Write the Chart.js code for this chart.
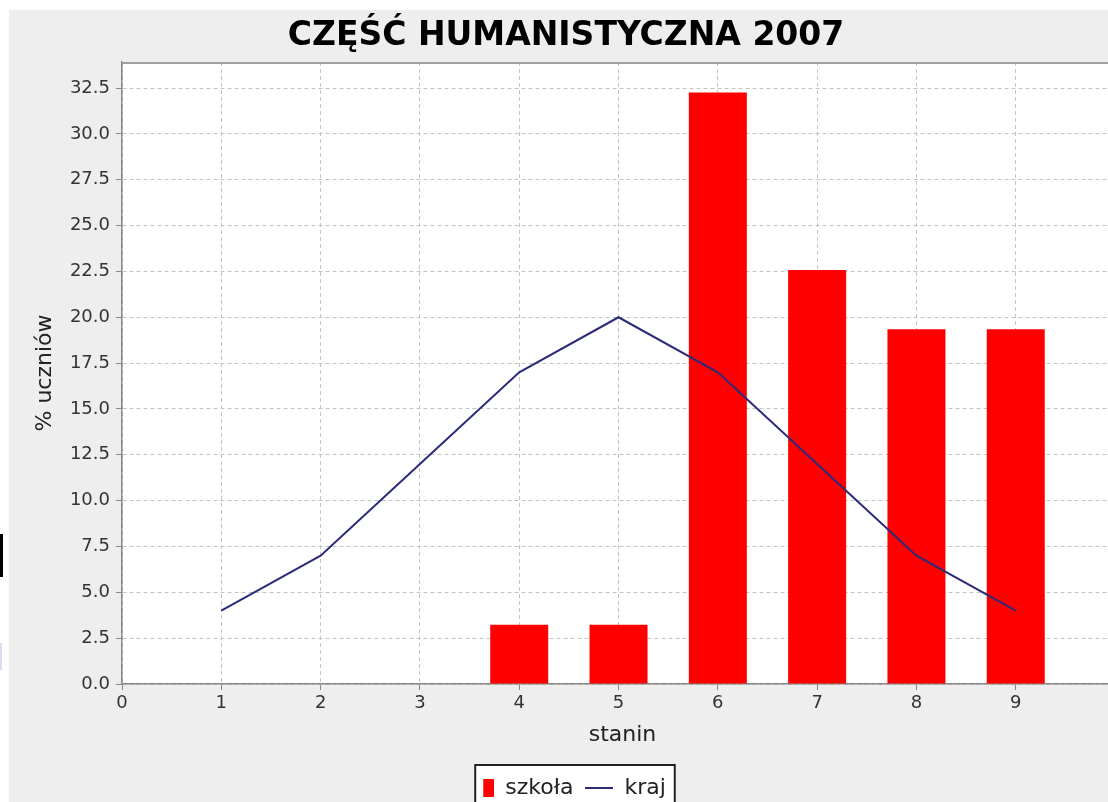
<!DOCTYPE html>
<html>
<head>
<meta charset="utf-8">
<script src="https://cdn.jsdelivr.net/npm/chart.js@4.4.0/dist/chart.umd.min.js"></script>
<style>
  html, body { margin: 0; padding: 0; background: #fff; overflow: hidden; width: 1108px; height: 802px; }
  #wrap { position: absolute; left: 9px; top: 10px; width: 1114px; height: 792px; }
  .edge { position: absolute; left: 0; width: 3px; }
</style>
</head>
<body>
<div id="wrap"><canvas id="staninChart" width="1114" height="792"></canvas></div>
<div class="edge" style="top:534px;height:43px;background:#000"></div>
<div class="edge" style="top:643px;height:27px;width:2px;background:#dcdcf0"></div>
<script>
// stanin distribution: school result vs national norm
const stanin = [1, 2, 3, 4, 5, 6, 7, 8, 9];
const szkola = [0, 0, 0, 3.23, 3.23, 32.26, 22.58, 19.35, 19.35];
const kraj = [4, 7, 12, 17, 20, 17, 12, 7, 4];
const xTicks = [0, 1, 2, 3, 4, 5, 6, 7, 8, 9];
const yTicks = [0, 2.5, 5, 7.5, 10, 12.5, 15, 17.5, 20, 22.5, 25, 27.5, 30, 32.5];

Chart.defaults.font.family = "'DejaVu Sans', sans-serif";

// small legend symbols (red box, navy line)
function makeSymbol(draw) {
    const c = document.createElement('canvas');
    c.width = 28;
    c.height = 18;
    draw(c.getContext('2d'));
    return c;
}
const boxSymbol = makeSymbol(g => { g.fillStyle = '#ff0000'; g.fillRect(17, 0, 11, 18); });
const lineSymbol = makeSymbol(g => { g.fillStyle = '#2b2b7a'; g.fillRect(0, 8, 28, 2); });

const backdrop = {
    id: 'backdrop',
    beforeDraw(chart) {
        const { ctx, chartArea } = chart;
        ctx.save();
        ctx.fillStyle = '#eeeeee';
        ctx.fillRect(0, 0, chart.width, chart.height);
        ctx.fillStyle = '#ffffff';
        ctx.fillRect(chartArea.left, chartArea.top, chartArea.right - chartArea.left, chartArea.bottom - chartArea.top);
        // legend frame
        const hb = chart.legend.legendHitBoxes;
        if (hb && hb.length) {
            const first = hb.reduce((a, b) => (b.left < a.left ? b : a));
            const last = hb.reduce((a, b) => (b.left > a.left ? b : a));
            const left = first.left + 17 - 8;
            const right = last.left + last.width + 9;
            const top = first.top - 12;
            ctx.fillRect(left, top, right - left, 80);
            ctx.strokeStyle = '#222';
            ctx.lineWidth = 2;
            ctx.strokeRect(left, top, right - left, 80);
        }
        ctx.restore();
    },
    beforeDatasetsDraw(chart) {
        const { ctx, chartArea } = chart;
        ctx.save();
        ctx.strokeStyle = '#a0a0a0';
        ctx.lineWidth = 2;
        ctx.beginPath();
        ctx.moveTo(chartArea.left, chartArea.top + 1);
        ctx.lineTo(chartArea.right, chartArea.top + 1);
        ctx.stroke();
        ctx.restore();
    }
};

const gridOpts = {
    color: '#c4c4c4',
    lineWidth: 1,
    drawTicks: true,
    tickLength: 6,
    tickColor: '#888',
    tickWidth: 1,
    tickBorderDash: []
};

new Chart(document.getElementById('staninChart'), {
    type: 'bar',
    data: {
        datasets: [{
            label: 'szkoła',
            data: stanin.map((s, i) => ({ x: s, y: szkola[i] })),
            backgroundColor: '#ff0000',
            borderWidth: 0,
            barPercentage: 0.584,
            categoryPercentage: 1,
            pointStyle: boxSymbol,
            order: 2
        }, {
            type: 'line',
            label: 'kraj',
            data: stanin.map((s, i) => ({ x: s, y: kraj[i] })),
            borderColor: '#2b2b7a',
            backgroundColor: '#2b2b7a',
            borderWidth: 2,
            pointRadius: 0,
            tension: 0,
            fill: false,
            pointStyle: lineSymbol,
            order: 1
        }]
    },
    options: {
        responsive: false,
        animation: false,
        layout: { padding: { left: 0, right: 0, top: 0, bottom: -7 } },
        scales: {
            x: {
                type: 'linear',
                min: 0,
                max: 10.08,
                offset: false,
                afterBuildTicks: s => { s.ticks = xTicks.map(v => ({ value: v })); },
                afterFit: s => { s.height = 81; },
                ticks: { color: '#333', font: { size: 18 }, padding: 3, maxRotation: 0, callback: v => String(v) },
                grid: Object.assign({ offset: false }, gridOpts),
                border: { display: true, color: '#888', width: 1.5, dash: [4, 3] },
                title: { display: true, text: 'stanin', color: '#222', font: { size: 22 }, padding: { top: 0, bottom: 16.8 } }
            },
            y: {
                min: 0,
                max: 33.92,
                afterBuildTicks: s => { s.ticks = yTicks.map(v => ({ value: v })); },
                afterFit: s => { s.width = 113; },
                ticks: { color: '#333', font: { size: 18 }, padding: 6, callback: v => v.toFixed(1) },
                grid: gridOpts,
                border: { display: true, color: '#888', width: 1.5, dash: [4, 3] },
                title: { display: true, text: '% uczniów', color: '#222', font: { size: 22 }, padding: { top: 22.8, bottom: 0 } }
            }
        },
        plugins: {
            title: {
                display: true,
                text: 'CZĘŚĆ HUMANISTYCZNA 2007',
                color: '#000',
                font: { size: 33, weight: 'bold' },
                padding: { top: 7, bottom: 5.4 }
            },
            legend: {
                display: true,
                position: 'bottom',
                labels: {
                    usePointStyle: true,
                    pointStyleWidth: 28,
                    boxHeight: 18,
                    padding: 12,
                    color: '#222',
                    font: { size: 22 },
                    sort: (a, b) => a.datasetIndex - b.datasetIndex
                }
            },
            tooltip: { enabled: false }
        }
    },
    plugins: [backdrop]
});
</script>
</body>
</html>
